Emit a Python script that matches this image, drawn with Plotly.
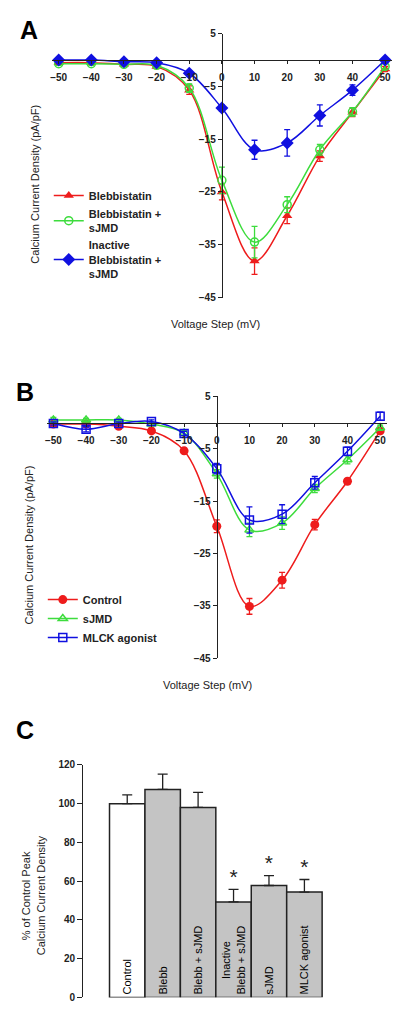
import plotly.graph_objects as go

W, H = 400, 1019

# ---------------- data ----------------
volt = [-50, -40, -30, -20, -10, 0, 10, 20, 30, 40, 50]

# Panel A
a_bleb = [-0.5, -0.5, -0.8, -1.2, -5.7, -25.0, -38.1, -29.5, -18.2, -9.9, -1.7]
a_bleb_err = [0.3, 0.3, 0.3, 0.4, 0.8, 1.5, 2.5, 1.5, 1.0, 0.8, 0.5]
a_bleb_sjmd = [-0.7, -0.7, -0.8, -1.0, -5.3, -22.8, -34.5, -27.4, -17.0, -9.8, -1.2]
a_bleb_sjmd_err = [0.3, 0.3, 0.3, 0.4, 0.8, 2.5, 3.0, 1.5, 1.0, 0.8, 0.5]
a_inact = [0.0, 0.0, -0.3, -0.5, -2.5, -9.1, -17.0, -15.7, -10.5, -5.7, 0.0]
a_inact_err = [0.2, 0.2, 0.2, 0.3, 0.5, 0.6, 1.8, 2.5, 2.0, 1.0, 0.4]

# Panel B
b_ctrl = [-0.3, -0.3, -0.7, -1.6, -5.4, -19.8, -35.1, -30.1, -19.5, -11.2, -1.6]
b_ctrl_err = [0.3, 0.3, 0.3, 0.4, 0.5, 1.2, 1.5, 1.5, 1.0, 0.5, 0.5]
b_sjmd = [0.5, 0.5, 0.5, -0.3, -2.0, -9.8, -20.5, -19.2, -12.6, -7.1, -1.0]
b_sjmd_err = [0.5, 0.3, 0.3, 0.3, 0.5, 0.8, 1.3, 1.2, 0.8, 0.8, 0.5]
b_mlck = [-0.2, -1.3, -0.2, 0.2, -2.1, -8.8, -18.6, -17.5, -11.5, -5.5, 1.2]
b_mlck_err = [0.3, 0.5, 0.3, 0.3, 0.4, 1.0, 2.5, 1.8, 1.2, 0.8, 0.8]

# Panel C
c_labels = ["Control", "Blebb", "Blebb + sJMD", "Inactive<br>Blebb + sJMD", "sJMD", "MLCK agonist"]
c_vals = [100.0, 107.4, 98.1, 49.3, 57.8, 54.4]
c_err = [4.6, 7.9, 7.8, 6.5, 5.1, 6.5]
c_sig = ["", "", "", "*", "*", "*"]

vticks = [-50, -40, -30, -20, -10, 0, 10, 20, 30, 40, 50]
ytickvals = [5, -5, -15, -25, -35, -45]
c_yticks = [0, 20, 40, 60, 80, 100, 120]

# ---------------- style ----------------
FONT = "Liberation Sans, Arial, sans-serif"
RED = "#ee1c1c"
GREEN = "#3ddc3d"
BLUE = "#1010e0"


def px(x):
    return x / W


def py(y):
    return 1 - y / H


fig = go.Figure()

# ----- Panel A -----
fig.add_trace(go.Scatter(
    x=volt, y=a_bleb, name="Blebbistatin", mode="lines+markers",
    line=dict(color=RED, width=1.5, shape="spline"),
    marker=dict(symbol="triangle-up", size=9, color=RED),
    error_y=dict(type="data", array=a_bleb_err, color=RED, thickness=1.3, width=3),
    xaxis="x", yaxis="y", legend="legend"))
fig.add_trace(go.Scatter(
    x=volt, y=a_bleb_sjmd, name="Blebbistatin +<br>sJMD", mode="lines+markers",
    line=dict(color=GREEN, width=1.5, shape="spline"),
    marker=dict(symbol="circle-open", size=8, color=GREEN, line=dict(width=1.5)),
    error_y=dict(type="data", array=a_bleb_sjmd_err, color=GREEN, thickness=1.3, width=3),
    xaxis="x", yaxis="y", legend="legend"))
fig.add_trace(go.Scatter(
    x=volt, y=a_inact, name="Inactive<br>Blebbistatin +<br>sJMD", mode="lines+markers",
    line=dict(color=BLUE, width=1.5, shape="spline"),
    marker=dict(symbol="diamond", size=10, color=BLUE),
    error_y=dict(type="data", array=a_inact_err, color=BLUE, thickness=1.3, width=3),
    xaxis="x", yaxis="y", legend="legend"))

# ----- Panel B -----
fig.add_trace(go.Scatter(
    x=volt, y=b_ctrl, name="Control", mode="lines+markers",
    line=dict(color=RED, width=1.5, shape="spline"),
    marker=dict(symbol="circle", size=9, color=RED),
    error_y=dict(type="data", array=b_ctrl_err, color=RED, thickness=1.3, width=3),
    xaxis="x2", yaxis="y2", legend="legend2"))
fig.add_trace(go.Scatter(
    x=volt, y=b_sjmd, name="sJMD", mode="lines+markers",
    line=dict(color=GREEN, width=1.5, shape="spline"),
    marker=dict(symbol="triangle-up-open", size=8, color=GREEN, line=dict(width=1.5)),
    error_y=dict(type="data", array=b_sjmd_err, color=GREEN, thickness=1.3, width=3),
    xaxis="x2", yaxis="y2", legend="legend2"))
fig.add_trace(go.Scatter(
    x=volt, y=b_mlck, name="MLCK agonist", mode="lines+markers",
    line=dict(color=BLUE, width=1.5, shape="spline"),
    marker=dict(symbol="square-open", size=8, color=BLUE, line=dict(width=1.5)),
    error_y=dict(type="data", array=b_mlck_err, color=BLUE, thickness=1.3, width=3),
    xaxis="x2", yaxis="y2", legend="legend2"))

# ----- Panel C -----
xs = list(range(len(c_vals)))
fig.add_trace(go.Bar(
    x=xs, y=c_vals, width=1.0,
    marker=dict(color=["white"] + ["#c4c4c4"] * 5, line=dict(color="#222222", width=1.5)),
    error_y=dict(type="data", array=c_err, arrayminus=[0] * 6, symmetric=False,
                 color="#222222", thickness=1.3, width=5),
    text=c_labels, textposition="inside", insidetextanchor="start", textangle=-90,
    textfont=dict(family=FONT, size=11, color="black"),
    showlegend=False, xaxis="x3", yaxis="y3"))
fig.add_trace(go.Scatter(
    x=xs, y=[v + e for v, e in zip(c_vals, c_err)], mode="text", text=c_sig,
    textposition="top center", textfont=dict(family=FONT, size=21, color="#222222"),
    showlegend=False, xaxis="x3", yaxis="y3", cliponaxis=False))

# ---------------- axes ----------------
A_top, A_bot = py(28), py(295)
B_top, B_bot = py(395), py(660)
yr = [-45, 5]
xr = [-52, 52]


def zero_pos(lo, hi, d0, d1):
    return d0 + (0 - lo) / (hi - lo) * (d1 - d0)


A_xd = [px(50.4), px(391.6)]
B_xd = [px(45.1), px(386.6)]

tickfont = dict(family=FONT, size=10, color="#222222", weight="bold")
common_x = dict(range=xr, tickvals=vticks, showgrid=False, zeroline=False,
                showline=True, linecolor="#222222", linewidth=1.3,
                ticks="outside", ticklen=3, tickcolor="#222222",
                tickfont=tickfont, anchor="free", ticklabelstandoff=5)
common_y = dict(range=yr, tickvals=ytickvals, showgrid=False, zeroline=False,
                showline=True, linecolor="#222222", linewidth=1.3,
                ticks="outside", ticklen=4, tickcolor="#222222",
                tickfont=tickfont, anchor="free")

fig.update_layout(
    xaxis=dict(domain=A_xd, position=zero_pos(yr[0], yr[1], A_bot, A_top), **common_x),
    yaxis=dict(domain=[A_bot, A_top], position=zero_pos(xr[0], xr[1], A_xd[0], A_xd[1]), **common_y),
    xaxis2=dict(domain=B_xd, position=zero_pos(yr[0], yr[1], B_bot, B_top), **common_x),
    yaxis2=dict(domain=[B_bot, B_top], position=zero_pos(xr[0], xr[1], B_xd[0], B_xd[1]), **common_y),
    xaxis3=dict(domain=[px(81.7), px(325.3)], range=[-1.24, 5.6], visible=False, anchor="y3"),
    yaxis3=dict(domain=[py(1003.3), py(768)], range=[0, 120], tickvals=c_yticks,
                showgrid=False, zeroline=False, showline=True, linecolor="#222222",
                linewidth=1.3, ticks="outside", ticklen=5, tickcolor="#222222",
                tickfont=tickfont, anchor="x3"),
)

# ---------------- legends ----------------
legfont = dict(family=FONT, size=11, color="#222222", weight="bold")
fig.update_layout(
    legend=dict(x=px(47), y=py(177), xanchor="left", yanchor="top",
                bgcolor="rgba(0,0,0,0)", font=legfont, tracegroupgap=6),
    legend2=dict(x=px(41), y=py(586), xanchor="left", yanchor="top",
                 bgcolor="rgba(0,0,0,0)", font=legfont),
)

# ---------------- annotations ----------------
ann = []
for txt, x, y in [("A", 16, 24), ("B", 12, 391), ("C", 12, 733)]:
    ann.append(dict(text="<b>%s</b>" % txt, x=px(x), y=py(y), xref="paper", yref="paper",
                    xanchor="left", yanchor="middle", showarrow=False,
                    font=dict(family=FONT, size=25, color="black")))
titlefont = dict(family=FONT, size=11, color="#222222")


def label(text, x, y, angle=0):
    ann.append(dict(text=text, x=px(x), y=py(y), xref="paper", yref="paper",
                    xanchor="center", yanchor="middle", showarrow=False,
                    textangle=angle, font=titlefont))


label("Voltage Step (mV)", 215, 322)
label("Voltage Step (mV)", 207, 687)
label("Calcium Current Density (pA/pF)", 33, 180, -90)
label("Calcium Current Density (pA/pF)", 27, 545, -90)
label("% of Control Peak", 25, 900, -90)
label("Calcium Current Density", 40, 900, -90)

fig.update_layout(
    annotations=ann,
    width=W, height=H, margin=dict(l=0, r=0, t=0, b=0),
    paper_bgcolor="white", plot_bgcolor="white",
    font=dict(family=FONT, color="#222222"),
)

fig.write_html("out.html", config={"displayModeBar": False},
               post_script="document.body.style.margin='0px';"
                           "document.documentElement.style.margin='0px';")
